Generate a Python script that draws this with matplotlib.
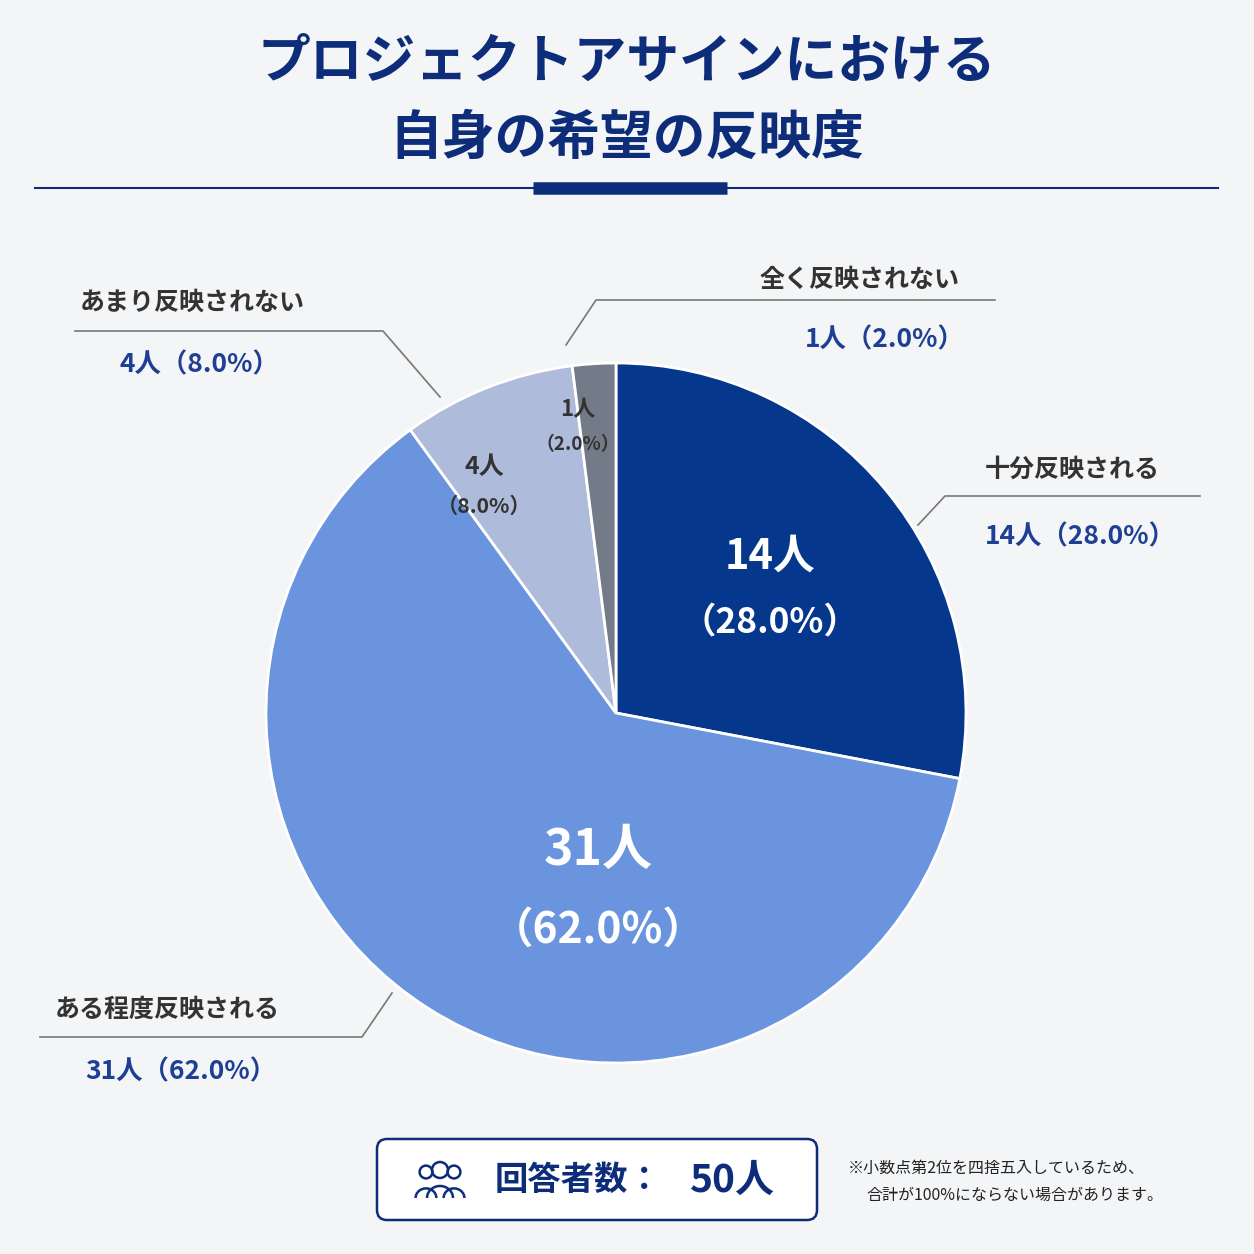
import matplotlib
matplotlib.use("Agg")
import matplotlib.pyplot as plt
from matplotlib.patches import FancyBboxPatch, Circle, Arc

plt.rcParams['font.family'] = ['Noto Sans CJK JP', 'DejaVu Sans']

labels = ["十分反映される", "ある程度反映される", "あまり反映されない", "全く反映されない"]
counts = [14, 31, 4, 1]
pcts = [28.0, 62.0, 8.0, 2.0]
colors = ["#05378C", "#6A95DE", "#AEBBDA", "#737B89"]
inner_colors = ["white", "white", "#333333", "#333333"]

navy = "#0D2D7A"
bg = "#F4F5F7"

fig = plt.figure(figsize=(12.54, 12.54), dpi=100, facecolor=bg)
ax = fig.add_axes([0, 0, 1, 1])
ax.set_xlim(0, 1254)
ax.set_ylim(1254, 0)
ax.set_aspect("equal")
ax.axis("off")

# title
ax.text(627, 62, "プロジェクトアサインにおける", ha="center", va="center",
        fontsize=38, fontweight="bold", color=navy)
ax.text(627, 138, "自身の希望の反映度", ha="center", va="center",
        fontsize=38, fontweight="bold", color=navy)
ax.plot([35, 1218], [188, 188], color=navy, lw=1.5)
ax.plot([533, 727], [188, 188], color=navy, lw=9, solid_capstyle="butt")

# pie (y axis inverted -> use counterclock=True to go clockwise visually)
cx, cy, r = 616, 713, 350
ax.pie(counts, colors=colors, startangle=-90, counterclock=True,
       center=(cx, cy), radius=r, frame=True,
       wedgeprops=dict(edgecolor="white", linewidth=2))
ax.set_xlim(0, 1254)
ax.set_ylim(1254, 0)
ax.axis("off")

# inner labels
inner_pos = [(770, 590), (598, 890), (484, 487), (578, 427)]
inner_size = [30, 36, 18, 16]
for (x, y), n, p, c, s in zip(inner_pos, counts, pcts, inner_colors, inner_size):
    ax.text(x, y - s * 1.1, f"{n}人", ha="center", va="center",
            fontsize=s, fontweight="bold", color=c)
    ax.text(x, y + s * 1.1, f"（{p:.1f}%）", ha="center", va="center",
            fontsize=s * 0.85, fontweight="bold", color=c)

# outer labels with leader lines
outer = [
    (985, 470, 985, 537, "left", [(918, 525), (945, 496), (1200, 496)]),
    (55, 1010, 85, 1072, "left", [(392, 993), (362, 1037), (40, 1037)]),
    (80, 303, 120, 365, "left", [(440, 397), (383, 331), (75, 331)]),
    (760, 280, 805, 340, "left", [(566, 345), (596, 300), (995, 300)]),
]
for (lx, ly, vx, vy, ha, pts), lab, n, p in zip(outer, labels, counts, pcts):
    ax.text(lx, ly, lab, ha=ha, va="center", fontsize=18, fontweight="bold", color="#333333")
    ax.text(vx, vy, f"{n}人（{p:.1f}%）", ha=ha, va="center", fontsize=19,
            fontweight="bold", color="#1F3F94")
    ax.plot([q[0] for q in pts], [q[1] for q in pts], color="#777777", lw=1.2)

# footer box
box = FancyBboxPatch((377, 1139), 440, 81, boxstyle="round,pad=0,rounding_size=10",
                     fc="white", ec=navy, lw=1.8)
ax.add_patch(box)
for dx, rr in [(-14, 8), (14, 8), (0, 10)]:
    ax.add_patch(Circle((440 + dx, 1172 - (2 if dx == 0 else 0)), rr * 0.8, fill=False, ec=navy, lw=1.8))
    ax.add_patch(Arc((440 + dx, 1198), rr * 2.6, rr * 2.4, theta1=180, theta2=360, ec=navy, lw=1.8))
ax.text(495, 1180, "回答者数：", ha="left", va="center", fontsize=24, fontweight="bold", color=navy)
ax.text(690, 1180, "50人", ha="left", va="center", fontsize=28, fontweight="bold", color=navy)
ax.text(848, 1168, "※小数点第2位を四捨五入しているため、", ha="left", va="center",
        fontsize=11.5, color="#222222")
ax.text(866, 1195, "合計が100%にならない場合があります。", ha="left", va="center",
        fontsize=11.5, color="#222222")

fig.savefig("out.png", dpi=100, facecolor=bg)
